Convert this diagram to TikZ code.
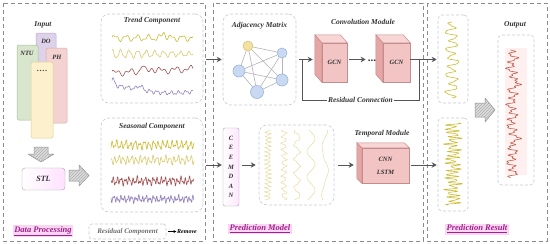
\documentclass[tikz,border=0pt]{standalone}
\usepackage{fontspec}
\setmainfont{Liberation Serif}
\usetikzlibrary{arrows.meta,patterns,calc}
\definecolor{panelc}{HTML}{8A8A8A}
\definecolor{boxc}{HTML}{C4CAD6}
\definecolor{arrc}{HTML}{555555}
\definecolor{txtc}{HTML}{333333}
\definecolor{magc}{HTML}{A0208C}
\definecolor{hlc}{HTML}{FAD6F2}
\definecolor{cfront}{HTML}{F3C4C4}
\definecolor{cside}{HTML}{E6A6A6}
\definecolor{ctop}{HTML}{F8D6D6}
\definecolor{cedge}{HTML}{C48C8C}
\definecolor{wy1}{HTML}{CDBB33}
\definecolor{wy2}{HTML}{DACB6E}
\definecolor{wr}{HTML}{A25252}
\definecolor{wp}{HTML}{9484BE}
\definecolor{imfc}{HTML}{EADBA0}
\definecolor{outc}{HTML}{C2604E}
\definecolor{nodeb}{HTML}{C9D9F2}
\definecolor{nodebd}{HTML}{9DB4DC}
\definecolor{nodey}{HTML}{F2E2A2}
\definecolor{nodeyd}{HTML}{D9C478}
\definecolor{edgec}{HTML}{B4B4B8}
\definecolor{hollowc}{HTML}{DCDCDC}
\definecolor{hollowd}{HTML}{8C8C8C}
\definecolor{dofill}{HTML}{DDD2EA}
\definecolor{dodraw}{HTML}{B8A8CC}
\definecolor{ntufill}{HTML}{D8E6CE}
\definecolor{ntudraw}{HTML}{A8C098}
\definecolor{phfill}{HTML}{F5D2D2}
\definecolor{phdraw}{HTML}{D8A8A8}
\definecolor{yfill}{HTML}{FCF1CC}
\definecolor{ydraw}{HTML}{E2CE92}
\newcommand\drawcube[3]{%
  \fill[ctop, draw=cedge, line width=0.5pt] (#1.north west) -- ++(#2,#3) -- ([shift={(#2,#3)}]#1.north east) -- (#1.north east) -- cycle;
  \fill[cside, draw=cedge, line width=0.5pt] (#1.north west) -- ++(#2,#3) -- ([shift={(#2,#3)}]#1.south west) -- (#1.south west) -- cycle;}
\begin{document}
\begin{tikzpicture}[x=1pt,y=-1pt,
  panel/.style={draw=panelc, dash pattern=on 4pt off 3pt, line width=0.6pt},
  inbox/.style={draw=boxc, dash pattern=on 3pt off 2pt, rounded corners=8pt, line width=0.6pt, inner sep=0},
  smallbox/.style={draw=boxc, dash pattern=on 3pt off 2pt, rounded corners=4pt, line width=0.6pt, inner sep=0},
  ttl/.style={font=\fontsize{7.5}{9}\selectfont\bfseries\itshape, text=txtc, inner sep=1pt},
  sml/.style={font=\fontsize{6.5}{8}\selectfont\bfseries\itshape, text=txtc, inner sep=1pt},
  sec/.style={font=\fontsize{8.5}{10}\selectfont\bfseries\itshape, text=magc, fill=hlc, inner sep=1.5pt},
  arr/.style={draw=arrc, line width=1pt, -{Stealth[length=5pt,width=5.5pt]}},
  cubef/.style={fill=cfront, draw=cedge, line width=0.5pt, inner sep=0, font=\fontsize{6.5}{8}\selectfont\bfseries\itshape, text=txtc},
  inp/.style={rounded corners=1.5pt, line width=0.5pt},
  gnode/.style={circle, fill=nodeb, draw=nodebd, line width=0.6pt, inner sep=0},
  gedge/.style={draw=edgec, line width=0.6pt},
  wave/.style={line width=0.6pt, line join=round},
  hollow/.style={fill=hollowc, draw=hollowd, line width=0.5pt, line join=round},
  hatch/.style={pattern=north east lines, pattern color=hollowd!70}
]
\useasboundingbox (0,0) rectangle (550,244);
\fill[white] (0,0) rectangle (550,244);

% panels
\draw[panel] (3,3) rectangle (205,241);
\draw[panel] (213,3) rectangle (423,241);
\draw[panel] (427,3) rectangle (547,241);

% ---------- Data processing ----------
\node[ttl] (tin) at (43,25) {Input};
\draw[inp, fill=dofill, draw=dodraw] (36,33) rectangle (56,110);
\draw[inp, fill=ntufill, draw=ntudraw] (17,45) rectangle (38,120);
\draw[inp, fill=phfill, draw=phdraw] (46,48) rectangle (67,123);
\draw[inp, fill=yfill, draw=ydraw] (31,62) rectangle (53,138);
\node[sml] (tdo) at (46,41) {DO};
\node[sml] (tntu) at (27,53) {NTU};
\node[sml] (tph) at (57,57) {PH};
\node[sml, font=\fontsize{8}{8}\selectfont\bfseries] (tdots) at (42,71) {.\kern0.8pt.\kern0.8pt.\kern0.8pt.};

% hollow arrows
\path[hollow] (34,147) -- (48,147) -- (48,154) -- (54,154) -- (41,162) -- (28,154) -- (34,154) -- cycle;
\path[hatch] (34,147) -- (48,147) -- (48,154) -- (54,154) -- (41,162) -- (28,154) -- (34,154) -- cycle;
\node[draw=gray!70, rounded corners=3pt, left color=white, right color=magenta!12!white, minimum width=43pt, minimum height=22pt, inner sep=0, font=\fontsize{8}{9}\selectfont\bfseries\itshape, text=txtc] (stl) at (43.5,179) {STL};
\path[hollow] (69,170) -- (79,170) -- (79,165) -- (89,175.5) -- (79,186) -- (79,181) -- (69,181) -- cycle;
\path[hatch] (69,170) -- (79,170) -- (79,165) -- (89,175.5) -- (79,186) -- (79,181) -- (69,181) -- cycle;

% trend box
\node[inbox, minimum width=102pt, minimum height=89pt] (trend) at (152,58.5) {};
\node[ttl] (ttr) at (152,21) {Trend Component};
\draw[wave, wy1] plot[domain=0:81, samples=150] ({112+\x}, {38 - 2.4*sin(32*\x) - 1.2*sin(70*\x+40) - 6*exp(((\x-52)^2)/(-5))});
\draw[wave, wy2] plot[domain=0:81, samples=150] ({112+\x}, {54 - 4.2*(1-\x/140)*sin(42*\x+90) - 1*sin(95*\x)});
\draw[wave, wr] plot[domain=0:81, samples=150] ({112+\x}, {73 - 2.2*sin(24*\x+10) - 1.6*sin(55*\x+60) - 6*exp(((\x-30)^2)/(-5)) - 3*exp(((\x-40)^2)/(-8)) - 0.05*\x});
\draw[wave, wp] plot[domain=0:81, samples=150] ({112+\x}, {89 + 4*sin(2.5*\x-60) - 6*exp(((\x-1)^2)/(-6)) - 4*exp(((\x-28)^2)/(-12)) - 1.5*sin(50*\x) - 0.9*sin(110*\x)});

% seasonal box
\node[inbox, minimum width=102pt, minimum height=94pt] (seas) at (152,165) {};
\node[ttl] (tse) at (152,127) {Seasonal Component};
\draw[wave, wy1] plot[domain=-41.5:41.5, samples=250] ({152.5+\x}, {145 - 3*sin(78*\x) - 1.8*sin(150*\x+30) - 1*sin(37*\x)});
\draw[wave, wy2] plot[domain=-41.5:41.5, samples=250] ({152.5+\x}, {160 - 3*sin(85*\x+50) - 1.6*sin(140*\x) - 1*sin(31*\x+20)});
\draw[wave, wr] plot[domain=-41.5:41.5, samples=250] ({152.5+\x}, {181 - 2.5*sin(90*\x+20) - 2*sin(165*\x+70) - 1*sin(41*\x)});
\draw[wave, wp] plot[domain=-41.5:41.5, samples=250] ({152.5+\x}, {199 - 2*sin(100*\x) - 1.8*sin(180*\x+40) - 1*sin(45*\x+15)});

% legend
\node[sec] (dp) at (43,231) {\underline{Data Processing}};
\node[draw=boxc, dash pattern=on 3pt off 2pt, rounded corners=3pt, line width=0.6pt, minimum width=77pt, minimum height=15pt, inner sep=0, font=\fontsize{7}{8}\selectfont\bfseries\itshape, text=gray!85!black] (rc) at (127.5,231.5) {Residual Component};
\node[font=\fontsize{6}{7}\selectfont\bfseries\itshape, inner sep=0.5pt] (rem) at (187,231.5) {Remove};
\draw[line width=0.7pt, -{Stealth[length=3pt,width=3pt]}] ($(rc.east)+(1.5pt,0)$) -- (rem.west);

% ---------- Prediction model ----------
\node[inbox, minimum width=73pt, minimum height=91pt] (adj) at (259.5,59.5) {};
\node[ttl] (tadj) at (259.5,26) {Adjacency Matrix};
\node[gnode, fill=nodey, draw=nodeyd, minimum size=10pt] (n1) at (248,46) {};
\node[gnode, minimum size=10pt] (n2) at (282,53) {};
\node[gnode, minimum size=12pt] (n3) at (239,71) {};
\node[gnode, minimum size=12pt] (n4) at (282,80) {};
\node[gnode, minimum size=13pt] (n5) at (257,92) {};
\foreach \a/\b in {n1/n2,n1/n3,n1/n4,n1/n5,n2/n3,n2/n4,n2/n5,n3/n4,n3/n5,n4/n5}
  \draw[gedge] (\a) -- (\b);

\node[ttl] (tconv) at (363,22) {Convolution Module};
\node[cubef, minimum width=25pt, minimum height=39pt] (g1) at (334.5,62.5) {GCN};
\drawcube{g1}{-7}{-8}
\node[cubef, minimum width=27pt, minimum height=39pt] (g2) at (396.5,62.5) {GCN};
\drawcube{g2}{-7}{-8}
\node[font=\fontsize{11}{11}\selectfont\bfseries, text=txtc, inner sep=0, anchor=base] (dots) at (372,61.5) {...};

% output boxes (needed for arrows)
\node[smallbox, minimum width=30pt, minimum height=88pt] (rb1) at (453,59) {};
\node[smallbox, minimum width=30pt, minimum height=93pt] (rb2) at (453,164.5) {};

\draw[arr] ($(adj.east)+(3pt,0)$) -- ($(g1.west |- adj.east)+(-9pt,0)$);
\draw[arr] ($(g1.east |- adj.east)+(2pt,0)$) -- ($(dots.west |- adj.east)+(-2pt,0)$);
\draw[arr] (g2.east |- adj.east) -- ($(rb1.west |- adj.east)+(-1pt,0)$);
\coordinate (rA) at (419,59.5);
\coordinate (rB) at (302,59.5);
\draw[draw=arrc, line width=0.8pt] (rA) -- ++(0,40.5) -| (rB) node[pos=0.25, fill=white, ttl, inner sep=1pt] (tres) {Residual Connection};

% bottom row
\node[draw=gray!70, rounded corners=2pt, left color=white, right color=magenta!10!white, minimum width=16pt, minimum height=78pt, inner sep=0, font=\fontsize{6.5}{9.6}\selectfont\bfseries\itshape, text=txtc, align=center] (ceem) at (231,167) {C\\E\\E\\M\\D\\A\\N};
\node[inbox, minimum width=75pt, minimum height=80pt] (imf) at (296.5,165) {};
\draw[wave, imfc, line width=0.5pt] plot[variable=\t, domain=-35:35, samples=120] ({268 + 2.5*sin(90*\t) + 1.5*sin(170*\t+20)}, {165+\t});
\draw[wave, imfc, line width=0.5pt] plot[variable=\t, domain=-35:35, samples=90] ({284 + 2.5*sin(55*\t+30) + 1*sin(120*\t)}, {165+\t});
\draw[wave, imfc, line width=0.5pt] plot[variable=\t, domain=-35:35, samples=70] ({297 + 3*sin(25*\t+60) + 0.8*sin(80*\t)}, {165+\t});
\draw[wave, imfc, line width=0.5pt] plot[variable=\t, domain=-35:35, samples=50] ({311 + 4*sin(14*\t+100)}, {165+\t});
\draw[wave, imfc, line width=0.5pt] plot[variable=\t, domain=-35:35, samples=40] ({325 + 3*sin(8*\t+40) + 0.5*sin(20*\t)}, {165+\t});

\node[ttl] (ttemp) at (382,134) {Temporal Module};
\node[cubef, minimum width=47pt, minimum height=35pt, align=center] (tm) at (385.5,165.5) {CNN\\[5pt]LSTM};
\drawcube{tm}{-5}{-5}

\draw[arr] ($(seas.east)+(3pt,0)$) -- ($(seas.east -| ceem.west)+(-1pt,0)$);
\draw[arr] ($(ceem.east |- seas.east)+(3pt,0)$) -- ($(seas.east -| imf.west)+(-3pt,0)$);
\draw[arr] ($(imf.east |- seas.east)+(4pt,0)$) -- ($(seas.east -| tm.west)+(-8pt,0)$);
\draw[arr] ($(tm.east |- seas.east)+(2pt,0)$) -- ($(seas.east -| rb2.west)+(-1pt,0)$);
\draw[arr] ($(trend.east |- adj.east)+(3pt,0)$) -- ($(adj.west)+(-1pt,0)$);

\node[sec] (pm) at (260,229) {\underline{Prediction Model}};

% ---------- Prediction result ----------
\draw[wave, wy1] plot[variable=\t, domain=-38:38, samples=130] ({452 + 5*sin(42*\t) + 2.5*sin(17*\t+50) + 1.2*sin(100*\t+30)}, {60+\t});
\draw[wave, wy1] plot[variable=\t, domain=-41:41, samples=220] ({453 + 5.5*sin(95*\t) + 2.5*sin(150*\t+10) + 2*sin(23*\t)}, {164+\t});
\path[hollow] (475,103) -- (485,103) -- (485,98) -- (495,110) -- (485,122) -- (485,117) -- (475,117) -- cycle;
\path[hatch] (475,103) -- (485,103) -- (485,98) -- (495,110) -- (485,122) -- (485,117) -- (475,117) -- cycle;
\node[ttl] (tout) at (515,25) {Output};
\node[smallbox, minimum width=36pt, minimum height=150pt] (outb) at (516,110) {};
\fill[red!6!white] (505,48) rectangle (527,175);
\draw[wave, outc] plot[variable=\t, domain=-64:64, samples=260] ({512 + 3.5*sin(50*\t) + 2*sin(120*\t+20) + 2*sin(19*\t+70) + 12*exp(((\t+30)^2)/(-4)) + 8*exp(((\t-26)^2)/(-6))}, {114+\t});
\node[sec] (pr) at (477,229) {\underline{Prediction Result}};
\end{tikzpicture}
\end{document}
